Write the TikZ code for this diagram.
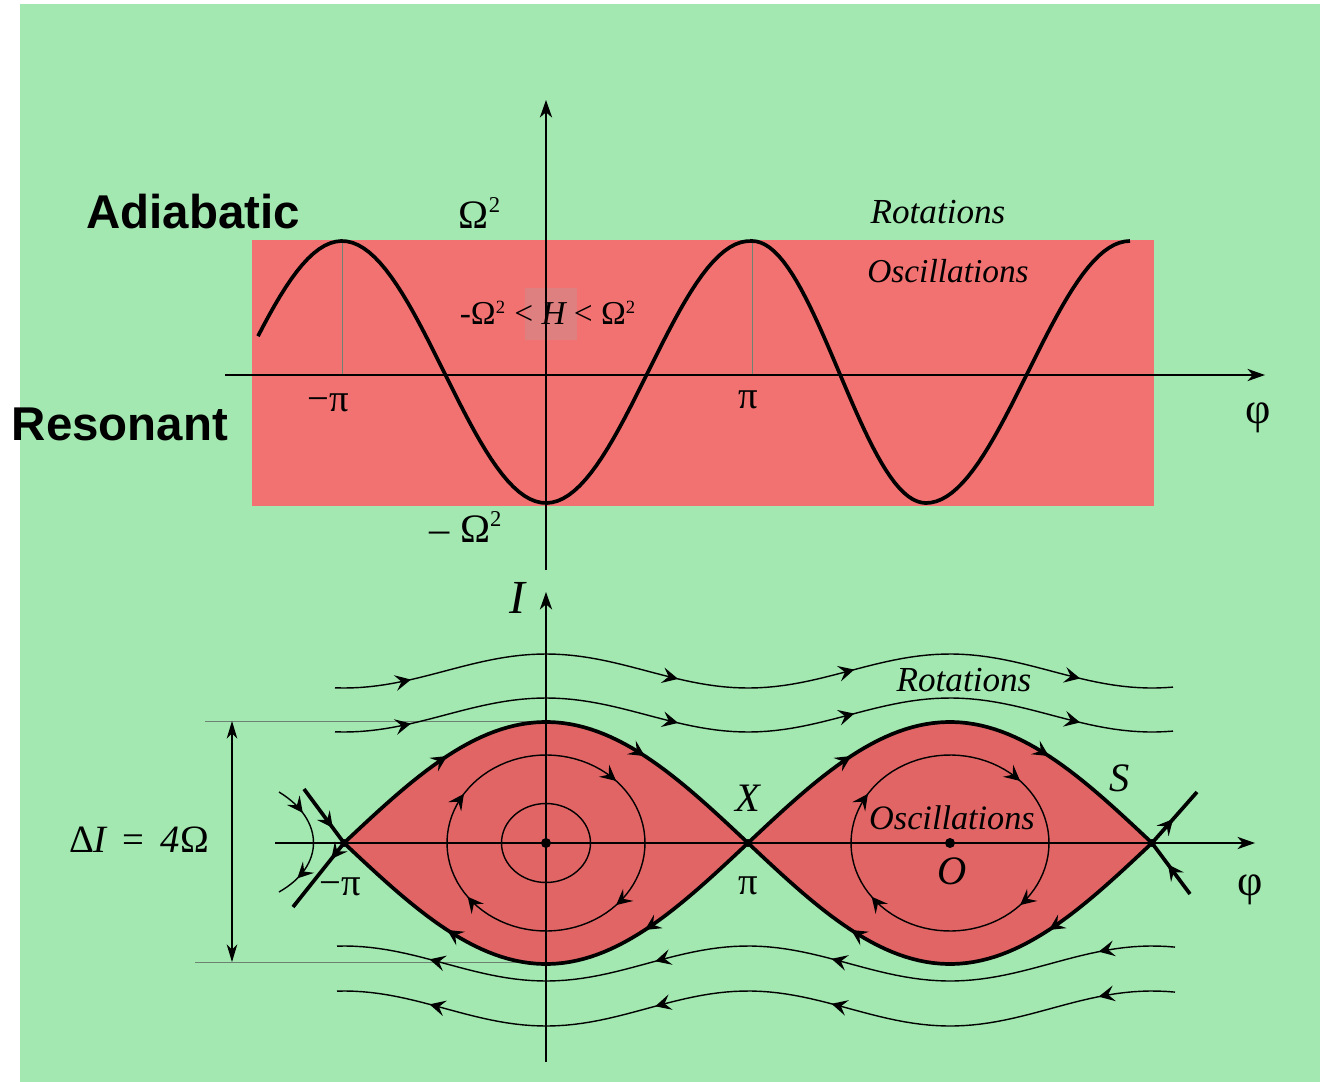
\documentclass[tikz,border=0pt]{standalone}
\usepackage{fontspec}
\setmainfont{Liberation Serif}
\setsansfont{Liberation Sans}
\usetikzlibrary{arrows.meta,decorations.markings}
\definecolor{bggreen}{RGB}{162,232,176}
\definecolor{bandred}{RGB}{242,114,114}
\definecolor{eyered}{RGB}{225,101,101}
\definecolor{hboxred}{RGB}{222,128,128}
\definecolor{guidegray}{RGB}{110,130,115}
\newcommand{\sqmark}{\textsuperscript{\scalebox{0.8}{2}}}

\begin{document}
\begin{tikzpicture}[x=0.02cm,y=-0.02cm,
  >={Stealth[length=9pt,width=9pt,inset=3.5pt]},
  axis/.style={line width=0.7pt,-{Stealth[length=10pt,width=7pt,inset=3pt]}},
  guide/.style={guidegray,line width=0.45pt},
  flow/.style={line width=0.8pt},
  sep/.style={line width=2.1pt},
  flowone/.style={postaction={decorate},decoration={markings,
    mark=at position #1 with {\arrow{>}}}},
  flowtwo/.style 2 args={postaction={decorate},decoration={markings,
    mark=at position #1 with {\arrow{>}},mark=at position #2 with {\arrow{>}}}},
  flowfour/.style={postaction={decorate},decoration={markings,
    mark=at position .09 with {\arrow{>}},mark=at position .41 with {\arrow{>}},
    mark=at position .62 with {\arrow{>}},mark=at position .89 with {\arrow{>}}}},
  orbit/.style={postaction={decorate},decoration={markings,
    mark=at position .12 with {\arrow{>}},mark=at position .40 with {\arrow{>}},
    mark=at position .59 with {\arrow{>}},mark=at position .88 with {\arrow{>}}}},
  every node/.style={inner sep=0pt},
  regime/.style={font=\fontsize{27}{30}\sffamily\bfseries},
  itlab/.style={font=\fontsize{20}{22}\selectfont\itshape},
  mathlab/.style={font=\fontsize{22}{24}\selectfont}]
\useasboundingbox (0,0) rectangle (1320,1082);
\fill[white] (0,0) rectangle (1320,1082);
\fill[bggreen] (20,4) rectangle (1320,1082);

% upper panel: potential
\fill[bandred] (252,240) rectangle (1154,506);
\fill[hboxred] (525,288) rectangle (577,340);
\draw[guide] (342,241) -- (342,375);
\draw[guide] (752,241) -- (752,375);
\draw[axis] (546,570) -- (546,100);
\draw[axis] (225,375) -- (1265,375);
\draw[sep] plot[domain=258:752,samples=90] (\x,{372+131*cos((\x-546)/204*180)})
  -- plot[domain=752:926,samples=40] (\x,{372-131*cos((\x-752)/174*180)})
  -- plot[domain=926:1130,samples=40] (\x,{372+131*cos((\x-926)/204*180)});

\node[regime] (adiab) at (193,212) {Adiabatic};
\node[regime] (reson) at (120,424) {Resonant};
\node[font=\fontsize{23}{25}\selectfont] (omtop) at (480,213) {Ω\sqmark};
\node[font=\fontsize{23}{25}\selectfont] (ombot) at (466,527) {– Ω\sqmark};
\node[font=\fontsize{19}{21}\selectfont] (hrange) at (548,313)
  {-Ω\sqmark\ <\ {\itshape H}\ <\ Ω\sqmark};
\node[mathlab] (mpitop) at (328,403) {−π};
\node[mathlab] (pitop) at (748,400) {π};
\node[font=\fontsize{25}{27}\selectfont] (phitop) at (1258,418) {φ};
\node[itlab] (rottop) at (938,212) {Rotations};
\node[itlab,font=\fontsize{19}{21}\selectfont\itshape] (osctop) at (948,271) {Oscillations};

% lower panel: phase portrait
\coordinate (Xl) at (344,843);
\coordinate (Xm) at (748,843);
\coordinate (Xr) at (1152,843);
\coordinate (Ol) at (546,843);
\coordinate (Or) at (950,843);
\coordinate (dtop) at (232,721);
\coordinate (dbot) at (232,962);

\foreach \c/\l/\r in {546/344/748,950/748/1152}
  \fill[eyered] plot[domain=\l:\r,samples=60] (\x,{843-121*cos((\x-\c)/404*180)})
    -- plot[domain=0:404,samples=60] ({\r-\x},{843+121*cos((\r-\x-\c)/404*180)}) -- cycle;

\draw[guide] (205,721) -- (546,721);
\draw[guide] (195,962) -- (546,962);
\draw[axis] (546,1062) -- (546,592);
\draw[axis] (275,843) -- (1255,843);
\draw[line width=0.7pt,{Stealth[length=10pt,width=6pt,inset=3pt]}-{Stealth[length=10pt,width=6pt,inset=3pt]}] (dtop) -- (dbot);

\foreach \c/\l/\r in {546/344/748,950/748/1152}{
  \draw[sep,flowtwo={.28}{.72}] plot[domain=\l:\r,samples=60] (\x,{843-121*cos((\x-\c)/404*180)});
  \draw[sep,flowtwo={.28}{.72}] plot[domain=0:404,samples=60] ({\r-\x},{843+121*cos((\r-\x-\c)/404*180)});
  \draw[flow,orbit] plot[domain=0:360,samples=90] ({\c+99*cos(\x)},{843+88*sin(\x)});
  \fill (\c,843) circle[radius=5];
}
\draw[flow] (Ol) ellipse[x radius=44.5,y radius=39.5];

\draw[sep,flowone=.72] (304,789) -- (Xl);
\draw[sep,flowone=.25] (Xl) -- (293,907);
\draw[sep,flowone=.47] (Xr) -- (1197,792);
\draw[sep,flowone=.58] (1190,894) -- (Xr);
\draw[flow,flowtwo={.25}{.82}] (279,792) .. controls (325,820) and (325,866) .. (279,892);
\foreach \p in {Xl,Xm,Xr} \fill (\p) circle[radius=4];

\foreach \yc in {671,715}
  \draw[flow,flowfour] plot[domain=335:1173,samples=100] (\x,{\yc-17*cos((\x-546)/404*360)});
\foreach \yc in {963.5,1008.5}
  \draw[flow,flowfour] plot[domain=0:838,samples=100] ({1175-\x},{\yc+17.5*cos((1175-\x-546)/404*360)});

\node[font=\fontsize{27}{29}\selectfont\itshape] (ilab) at (517,598) {I};
\node[font=\fontsize{22}{24}\selectfont] (dilab) at (139,840) {Δ{\itshape I}\,\ =\ \,{\itshape 4}Ω};
\node[itlab] (rotbot) at (964,680) {Rotations};
\node[itlab,font=\fontsize{19.5}{21}\selectfont\itshape] (oscbot) at (952,818) {Oscillations};
\node[font=\fontsize{23}{25}\selectfont\itshape] (xlab) at (748,798) {X};
\node[font=\fontsize{23}{25}\selectfont\itshape] (slab) at (1120,778) {S};
\node[font=\fontsize{23}{25}\selectfont\itshape] (olab) at (952,871) {O};
\node[mathlab] (pibot) at (748,886) {π};
\node[mathlab] (mpibot) at (340,887) {−π};
\node[font=\fontsize{25}{27}\selectfont] (phibot) at (1250,890) {φ};
\end{tikzpicture}
\end{document}
